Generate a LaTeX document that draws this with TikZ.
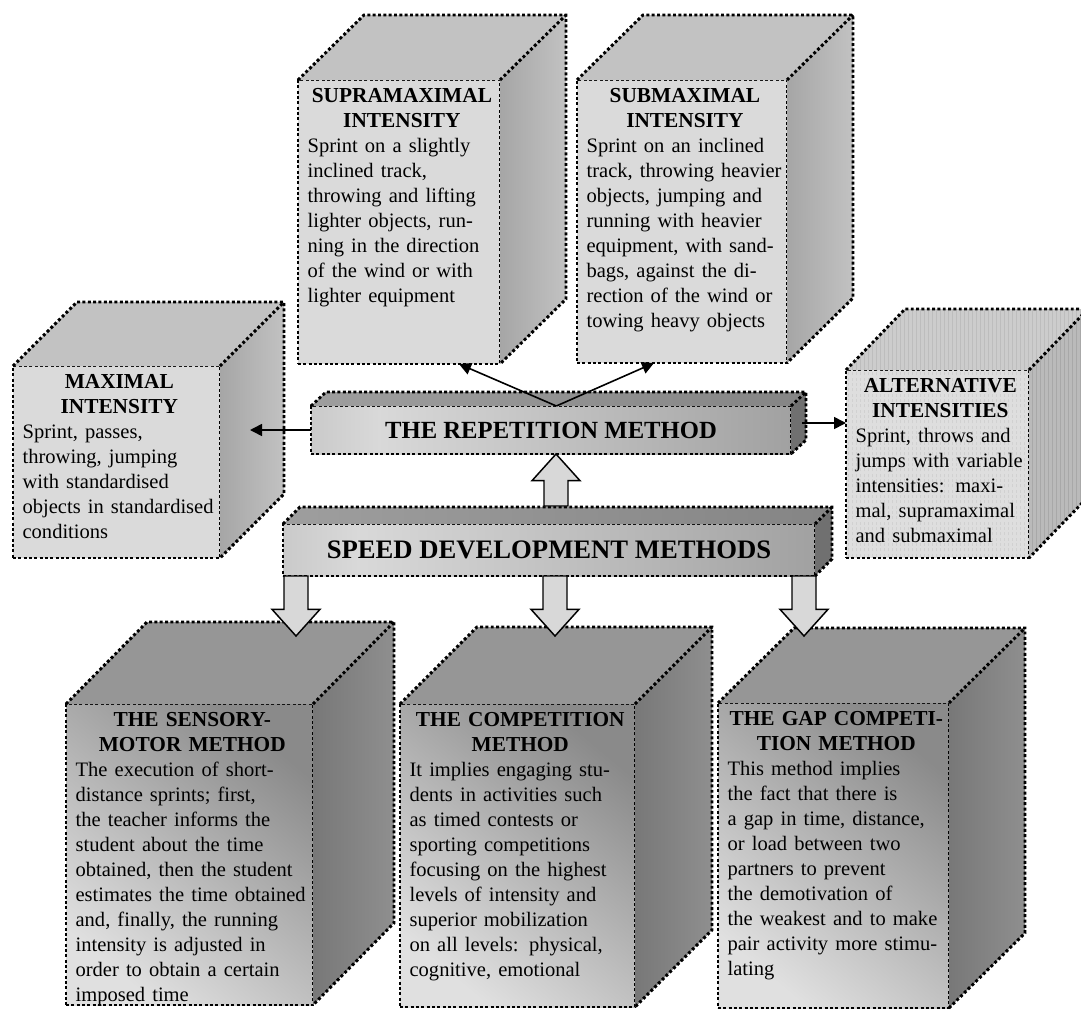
\documentclass[tikz,border=0pt]{standalone}
\usepackage{fontspec}
\setmainfont{Liberation Serif}
\usepackage{xcolor}
\usepackage{tikz}
\usetikzlibrary{arrows.meta, positioning, calc, patterns}
\definecolor{paleface}{RGB}{218,218,218}
\definecolor{arrowfill}{RGB}{216,216,216}
\pgfdeclarehorizontalshading{barshade}{100bp}{color(0bp)=(black!42); color(32bp)=(black!15); color(62bp)=(black!30); color(100bp)=(black!50)}

% top and side faces of a box, drawn from its front node
\newcommand{\cubefaces}[5]{%
  \path[#4] (#1.north west) -- ++(#2,#3) -- ($(#1.north east)+(#2,#3)$) -- (#1.north east) -- cycle;
  \path[#5] (#1.north east) -- ++(#2,#3) -- ($(#1.south east)+(#2,#3)$) -- (#1.south east) -- cycle;
  \draw[dots] (#1.north west) -- ++(#2,#3) -- ($(#1.north east)+(#2,#3)$) -- ($(#1.south east)+(#2,#3)$) -- (#1.south east);
  \draw[dots] (#1.north east) -- ++(#2,#3);
}
% wide hollow arrow, vertical, from #1 to its tip #2
\newcommand{\fatarrow}[2]{%
  \draw[blockarrow] let \p1=(#1), \p2=(#2), \n1={\y2>\y1 ? \y2-20pt : \y2+20pt} in
    (\x1-9pt,\y1) -- (\x1-9pt,\n1) -- (\x1-18pt,\n1) -- (\x1,\y2)
    -- (\x1+18pt,\n1) -- (\x1+9pt,\n1) -- (\x1+9pt,\y1) -- cycle;
}
\newcommand{\cubetext}[2]{{\centering\bfseries #1\par}\noindent
  \fontsize{15.4}{18.75}\selectfont\begin{tabular}[t]{@{}l@{}}#2\end{tabular}}

\begin{document}
\begin{tikzpicture}[
  x=0.75pt, y=-0.75pt,
  dots/.style={line width=2.2pt, dash pattern=on 2.2pt off 1.8pt},
  box/.style 2 args={minimum width=#1*0.75pt, minimum height=#2*0.75pt,
                     inner sep=0pt, outer sep=0pt, anchor=north west},
  pale/.style={draw, dots, fill=paleface},
  striped/.style={draw, dots, preaction={fill=black!13}, pattern=vertical lines, pattern color=black!18},
  deep/.style={draw, dots, top color=black!46, bottom color=black!12, shading angle=-40},
  bar/.style={draw, dots, shading=barshade, font=\bfseries},
  paletop/.style={fill=black!24},
  paleside/.style={left color=black!35, right color=black!24},
  stripetop/.style={preaction={fill=black!20}, pattern=vertical lines, pattern color=black!26},
  stripeside/.style={preaction={fill=black!27}, pattern=vertical lines, pattern color=black!34},
  deeptop/.style={fill=black!41},
  deepside/.style={left color=black!53, right color=black!44},
  bartop/.style={left color=black!38, right color=black!48},
  barside/.style={fill=black!56},
  boxtext/.style={anchor=north west, inner sep=3pt, font=\fontsize{16}{18.75}\selectfont},
  arrow/.style={-{Triangle[length=9pt,width=9pt]}, line width=1.2pt},
  blockarrow/.style={draw, line width=1.1pt, fill=arrowfill}
]
\clip (0,0) rectangle (1081,1010);

% upper boxes
\node[pale, box={207}{192}] (maxi) at (13,366) {};
\cubefaces{maxi}{64}{-64}{paletop}{paleside}
\node[boxtext, text width=145pt] (maxi-txt) at ([xshift=4pt,yshift=-3pt]maxi.north west)
  {\cubetext{MAXIMAL\\INTENSITY}{Sprint, passes,\\throwing, jumping\\with standardised\\objects in standardised\\conditions}};

\node[pale, box={202}{284}] (supra) at (298,80) {};
\cubefaces{supra}{66}{-65}{paletop}{paleside}
\node[boxtext, text width=141.5pt] (supra-txt) at ([xshift=4pt,yshift=-3pt]supra.north west)
  {\cubetext{SUPRAMAXIMAL\\INTENSITY}{Sprint on a slightly\\inclined track,\\throwing and lifting\\lighter objects, run-\\ning in the direction\\of the wind or with\\lighter equipment}};

\node[pale, box={210}{283}] (submax) at (577,80) {};
\cubefaces{submax}{66}{-65}{paletop}{paleside}
\node[boxtext, text width=147.5pt] (submax-txt) at ([xshift=4pt,yshift=-3pt]submax.north west)
  {\cubetext{SUBMAXIMAL\\INTENSITY}{Sprint on an inclined\\track, throwing heavier\\objects, jumping and\\running with heavier\\equipment, with sand-\\bags, against the di-\\rection of the wind or\\towing heavy objects}};

\node[striped, box={183}{188}] (alt) at (846,370) {};
\cubefaces{alt}{59}{-61}{stripetop}{stripeside}
\node[boxtext, text width=127pt] (alt-txt) at ([xshift=4pt,yshift=-3pt]alt.north west)
  {\cubetext{ALTERNATIVE\\INTENSITIES}{Sprint, throws and\\jumps with variable\\intensities: maxi-\\mal, supramaximal\\and submaximal}};

% the two bars
\node[bar, box={480}{48}, font=\bfseries\fontsize{18.5}{22}\selectfont] (rep) at (311,406) {THE REPETITION METHOD};
\cubefaces{rep}{15}{-14}{bartop}{barside}

\node[bar, box={532}{52}, font=\bfseries\fontsize{20}{24}\selectfont] (speed) at (283,524) {SPEED DEVELOPMENT METHODS};
\cubefaces{speed}{17}{-17}{bartop}{barside}

% lower boxes
\node[deep, box={247}{301}] (sensory) at (66,704) {};
\cubefaces{sensory}{81}{-82}{deeptop}{deepside}
\node[boxtext, text width=175pt] (sensory-txt) at ([xshift=4pt,yshift=-3pt]sensory.north west)
  {\cubetext{THE SENSORY-\\MOTOR METHOD}{The execution of short-\\distance sprints; first,\\the teacher informs the\\student about the time\\obtained, then the student\\estimates the time obtained\\and, finally, the running\\intensity is adjusted in\\order to obtain a certain\\imposed time}};

\node[deep, box={235}{303}] (compet) at (400,704) {};
\cubefaces{compet}{77}{-77}{deeptop}{deepside}
\node[boxtext, text width=166pt] (compet-txt) at ([xshift=4pt,yshift=-3pt]compet.north west)
  {\cubetext{THE COMPETITION\\METHOD}{It implies engaging stu-\\dents in activities such\\as timed contests or\\sporting competitions\\focusing on the highest\\levels of intensity and\\superior mobilization\\on all levels: physical,\\cognitive, emotional}};

\node[deep, box={231}{305}] (gap) at (718,703) {};
\cubefaces{gap}{76}{-75}{deeptop}{deepside}
\node[boxtext, text width=163pt] (gap-txt) at ([xshift=4pt,yshift=-3pt]gap.north west)
  {\cubetext{THE GAP COMPETI-\\TION METHOD}{This method implies\\the fact that there is\\a gap in time, distance,\\or load between two\\partners to prevent\\the demotivation of\\the weakest and to make\\pair activity more stimu-\\lating}};

% connectors
\coordinate (maxi-in) at (250,430);
\coordinate (rep-out) at (802,423);
\coordinate (up-base) at (556,506);
\coordinate (sensory-in) at (296,636);
\coordinate (compet-in) at (555,636);
\coordinate (gap-in) at (804,636);

\draw[arrow] (rep.west) -- (maxi-in);
\draw[arrow] (rep-out) -- (rep-out -| alt.west);
\draw[arrow] ([xshift=4pt]rep.north) -- ([xshift=45pt]supra.south);
\draw[arrow] ([xshift=4pt]rep.north) -- ([xshift=-21pt]submax.south);

\fatarrow{up-base}{up-base |- rep.south}
\fatarrow{sensory-in |- speed.south}{sensory-in}
\fatarrow{compet-in |- speed.south}{compet-in}
\fatarrow{gap-in |- speed.south}{gap-in}
\end{tikzpicture}
\end{document}
